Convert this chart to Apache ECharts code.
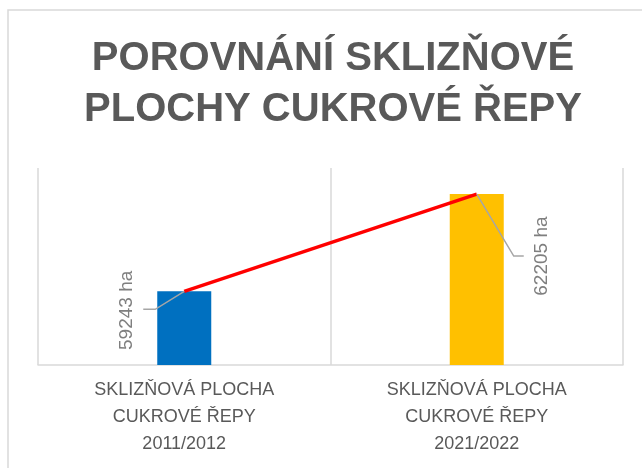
<!DOCTYPE html>
<html>
<head>
<meta charset="utf-8">
<script src="https://cdn.jsdelivr.net/npm/echarts@6/dist/echarts.min.js"></script>
<style>
  html, body { margin: 0; padding: 0; background: #fff; }
  #chart { width: 642px; height: 468px; }
</style>
</head>
<body>
<div id="chart"></div>
<script>
// data
const categories = [
  'SKLIZŇOVÁ PLOCHA\nCUKROVÉ ŘEPY\n2011/2012',
  'SKLIZŇOVÁ PLOCHA\nCUKROVÉ ŘEPY\n2021/2022'
];
const areaHa = [59243, 62205];
const barColors = ['#0070C0', '#FFC000'];
// where each data label sits relative to the top of its bar (px)
const labelOffsets = [
  { elbow: [-29, 18], end: [-41, 18], text: [-57, 19] },
  { elbow: [37, 62], end: [47, 62], text: [65, 62] }
];

const chart = echarts.init(document.getElementById('chart'));

const option = {
  animation: false,
  title: {
    text: 'POROVNÁNÍ SKLIZŇOVÉ\nPLOCHY CUKROVÉ ŘEPY',
    left: 328,
    top: 28,
    textAlign: 'center',
    textStyle: {
      fontFamily: 'Liberation Sans',
      fontWeight: 'bold',
      fontSize: 40,
      lineHeight: 51,
      color: '#595959'
    }
  },
  graphic: [
    {
      type: 'rect',
      shape: { x: 8, y: 10, width: 700, height: 520 },
      style: { fill: null, stroke: '#d9d9d9', lineWidth: 1.5 },
      silent: true,
      z: -10
    }
  ],
  grid: {
    left: 38,
    right: 19,
    top: 168,
    bottom: 103,
    outerBoundsMode: 'none'
  },
  xAxis: {
    type: 'category',
    data: categories,
    axisLine: { lineStyle: { color: '#d9d9d9', width: 1.5 } },
    axisTick: { show: false },
    splitLine: { show: true, lineStyle: { color: '#d9d9d9', width: 1.5 } },
    axisLabel: {
      margin: 12,
      fontFamily: 'Liberation Sans',
      fontSize: 18,
      lineHeight: 27,
      color: '#595959'
    }
  },
  yAxis: {
    type: 'value',
    min: 57000,
    max: 63000,
    show: false,
    splitLine: { show: false }
  },
  series: [
    {
      type: 'bar',
      barWidth: 54,
      data: areaHa.map((v, i) => ({ value: v, itemStyle: { color: barColors[i] } }))
    },
    {
      type: 'line',
      data: areaHa,
      symbol: 'none',
      lineStyle: { color: '#FF0000', width: 3.5 },
      z: 3
    },
    {
      type: 'custom',
      data: areaHa.map((v, i) => [i, v]),
      z: 4,
      renderItem: function (params, api) {
        const pt = api.coord([api.value(0), api.value(1)]);
        const o = labelOffsets[params.dataIndex];
        return {
          type: 'group',
          children: [
            {
              type: 'polyline',
              shape: {
                points: [
                  pt,
                  [pt[0] + o.elbow[0], pt[1] + o.elbow[1]],
                  [pt[0] + o.end[0], pt[1] + o.end[1]]
                ]
              },
              style: { stroke: '#a6a6a6', lineWidth: 1.5, fill: null }
            },
            {
              type: 'text',
              x: pt[0] + o.text[0],
              y: pt[1] + o.text[1],
              rotation: Math.PI / 2,
              style: {
                text: api.value(1) + ' ha',
                fill: '#7f7f7f',
                font: '19px "Liberation Sans"',
                align: 'center',
                verticalAlign: 'middle'
              }
            }
          ]
        };
      }
    }
  ]
};

chart.setOption(option);
</script>
</body>
</html>
